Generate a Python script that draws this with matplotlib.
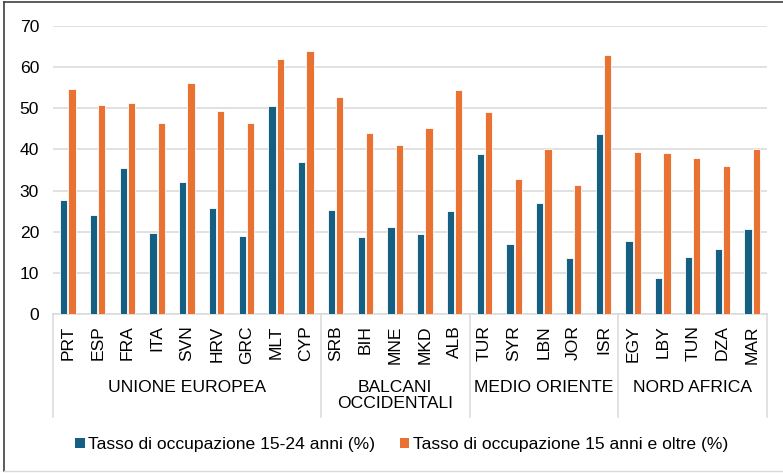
import matplotlib.pyplot as plt
import numpy as np
from matplotlib.patches import Patch
from matplotlib.lines import Line2D
import matplotlib.transforms as mtransforms

plt.rcParams['font.family'] = ['Liberation Sans', 'DejaVu Sans']

# Dati
paesi = ["PRT", "ESP", "FRA", "ITA", "SVN", "HRV", "GRC", "MLT", "CYP",
         "SRB", "BIH", "MNE", "MKD", "ALB",
         "TUR", "SYR", "LBN", "JOR", "ISR",
         "EGY", "LBY", "TUN", "DZA", "MAR"]
gruppi = ["UNIONE EUROPEA", "BALCANI\nOCCIDENTALI", "MEDIO ORIENTE", "NORD AFRICA"]
dimensioni_gruppi = [9, 5, 5, 5]

occ_15_24 = [27.8, 24.0, 35.4, 19.6, 32.2, 25.8, 18.9, 50.5, 36.9,
             25.2, 18.7, 21.1, 19.5, 25.0,
             38.8, 17.1, 27.1, 13.7, 43.7,
             17.8, 8.7, 13.8, 15.9, 20.7]
occ_15_plus = [54.6, 50.7, 51.2, 46.5, 56.2, 49.2, 46.3, 61.8, 63.8,
               52.8, 43.9, 41.1, 45.2, 54.3,
               49.0, 32.8, 40.1, 31.4, 62.9,
               39.3, 39.1, 38.0, 36.0, 40.0]

serie = ["Tasso di occupazione 15-24 anni (%)",
         "Tasso di occupazione 15 anni e oltre (%)"]
colori = ["#156082", "#E97132"]
grigio = "#D9D9D9"
fs = 12.6

fig = plt.figure(figsize=(7.83, 4.73), dpi=100)
ax = fig.add_axes([0.0677, 0.3355, 0.9119, 0.6102])

x = np.arange(len(paesi))
w = 0.24
ax.bar(x - 0.14, occ_15_24, w, color=colori[0], edgecolor="white", linewidth=0.6, zorder=3)
ax.bar(x + 0.14, occ_15_plus, w, color=colori[1], edgecolor="white", linewidth=0.6, zorder=3)

ax.set_xlim(-0.5, len(paesi) - 0.5)
ax.set_ylim(0, 70)
ax.set_yticks(range(0, 71, 10))
ax.yaxis.grid(True, color=grigio, linewidth=1.1, zorder=0)
ax.set_axisbelow(True)
for s in ["top", "right", "left"]:
    ax.spines[s].set_visible(False)
ax.spines["bottom"].set_color(grigio)
ax.spines["bottom"].set_linewidth(1.1)

ax.set_xticks(x)
ax.set_xticklabels(paesi, rotation=90, fontsize=fs)
ax.tick_params(axis="x", length=0, pad=8)
ax.tick_params(axis="y", length=0, pad=10, labelsize=fs)

# etichette di gruppo e separatori
trans = mtransforms.blended_transform_factory(ax.transData, fig.transFigure)
confini = np.concatenate([[0], np.cumsum(dimensioni_gruppi)]) - 0.5
y_sep_basso = 1 - 416.7 / 473
y_asse = 1 - 314.3 / 473
for c in confini:
    fig.add_artist(Line2D([c, c], [y_sep_basso, y_asse], transform=trans,
                          color=grigio, linewidth=1.1))
for i, g in enumerate(gruppi):
    centro = (confini[i] + confini[i + 1]) / 2
    fig.text(centro, 1 - 380 / 473, g, transform=trans, ha="center", va="top",
             fontsize=fs, linespacing=1.05)

# legenda
handles = [Patch(facecolor=c, edgecolor="none") for c in colori]
fig.legend(handles, serie, loc="center", bbox_to_anchor=(0.513, 1 - 444.5 / 473),
           ncol=2, frameon=False, fontsize=fs, handlelength=0.55, handleheight=0.55,
           handletextpad=0.2, columnspacing=1.4)

# cornice
fig.add_artist(Line2D([4 / 783, 4 / 783], [1 - 471 / 473, 1 - 2 / 473], color="#404040", linewidth=1.2))
fig.add_artist(Line2D([4 / 783, 1], [1 - 2 / 473, 1 - 2 / 473], color="#404040", linewidth=1.2))
fig.add_artist(Line2D([4 / 783, 1], [1 - 471 / 473, 1 - 471 / 473], color=grigio, linewidth=1.0))

fig.savefig("out.png", dpi=100)
